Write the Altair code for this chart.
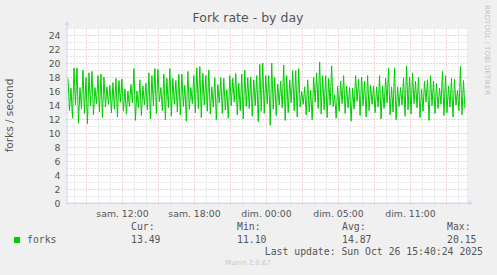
import altair as alt
import pandas as pd

peaks = [17.8,16.4,19.3,19.3,16.5,19.0,17.9,18.6,18.8,16.5,
         18.2,18.4,18.0,16.6,16.8,17.2,17.8,17.5,17.7,16.3,
         16.0,16.9,19.2,16.0,17.6,16.7,17.1,18.6,18.2,19.2,
         19.1,16.5,18.4,17.8,19.2,17.8,17.5,18.4,18.4,16.8,
         18.8,16.5,18.2,19.3,19.5,18.5,18.2,19.0,16.6,17.9,
         16.9,17.9,17.8,16.2,18.2,17.8,18.5,17.1,18.4,19.0,17.9,
         18.0,17.6,18.2,19.8,20.0,18.2,18.2,20.0,17.9,17.0,
         17.4,19.7,18.2,17.6,18.9,18.9,19.2,15.9,16.6,17.6,
         16.1,18.0,18.6,20.15,18.2,18.2,17.8,19.6,15.5,16.7,
         17.4,18.2,16.7,16.5,16.4,18.2,17.7,18.0,17.4,18.2,
         16.8,16.7,16.6,18.2,16.7,17.8,19.3,16.6,19.3,16.6,
         16.5,17.9,19.6,18.0,18.6,17.4,18.0,16.3,17.4,17.6,
         18.2,17.4,17.1,16.4,18.8,18.2,16.7,17.8,17.7,16.1,19.5,17.5]

troughs = [13.2,12.1,14.0,11.4,13.5,12.8,11.3,13.9,12.6,14.2,
           13.0,12.2,13.7,14.1,12.9,13.4,12.3,14.4,13.1,12.7,
           13.8,14.3,11.8,13.6,12.5,14.0,13.3,12.0,13.9,12.8,
           14.5,13.2,11.9,13.6,12.4,14.1,13.0,12.6,13.8,11.7,
           13.4,14.2,12.9,13.5,12.2,14.0,13.1,12.7,13.7,11.9,
           14.3,12.8,13.3,12.1,13.9,14.4,12.6,13.2,12.0,13.8,13.5,
           12.4,13.9,11.6,13.1,12.8,14.2,11.1,13.4,12.5,14.0,
           13.6,11.8,12.9,14.3,13.2,12.3,13.7,14.1,12.6,13.0,
           11.9,14.4,13.5,12.7,13.3,12.2,14.0,13.8,12.1,13.1,
           14.2,12.8,13.6,11.7,13.4,14.5,12.5,13.9,12.3,13.2,
           14.1,12.9,13.7,12.0,13.5,14.3,12.6,13.0,11.9,13.8,
           14.0,12.4,13.3,12.7,14.2,13.6,12.2,13.1,14.4,11.8,
           13.9,12.8,13.5,14.1,12.5,12.9,13.7,12.3,14.0,13.2,12.6,13.49]

tick_hours = [12, 18, 24, 30, 36]
tick_labels = ["sam. 12:00", "sam. 18:00", "dim. 00:00", "dim. 05:00", "dim. 11:00"]
legend_heads = ["Cur:", "Min:", "Avg:", "Max:"]
legend_vals = ["13.49", "11.10", "14.87", "20.15"]
series_name = "forks"
title_text = "Fork rate - by day"
y_title = "forks / second"
last_update = "Last update: Sun Oct 26 15:40:24 2025"
side_text = "RRDTOOL / TOBI OETIKER"
footer = "Munin 2.0.67"

# time axis (hours since Saturday 00:00)
X_MIN, X_MAX = 7.4167, 40.75
T_START, T_END = 7.5, 40.58

vals = []
for p, t in zip(peaks, troughs):
    vals += [p, t]
n = len(vals)
df = pd.DataFrame({
    "h": [T_START + i * (T_END - T_START) / (n - 1) for i in range(n)],
    "v": vals,
})

GREEN = "#00CC00"
TXT = "#555555"
AXC = "#CFD6F8"
MAJ = "#E3A8A8"
MIN = "#CFCFCF"
W, H = 400, 175

xexpr = "''"
for h, lab in reversed(list(zip(tick_hours, tick_labels))):
    xexpr = f"datum.value == {h} ? '{lab}' : ({xexpr})"

x_scale = alt.Scale(domain=[X_MIN, X_MAX], nice=False, zero=False)
y_scale = alt.Scale(domain=[0, 25], nice=False, zero=True)

x_axis = alt.Axis(
    values=list(range(8, 41)), labelExpr=xexpr, title=None,
    grid=True, gridDash=[1, 2],
    gridColor={"condition": {"test": "datum.value % 3 === 0", "value": MAJ}, "value": MIN},
    ticks=True, tickSize=3, tickDash=[1, 2],
    tickColor={"condition": {"test": "datum.value % 3 === 0", "value": MAJ}, "value": MIN},
    domain=False, labelFont="DejaVu Sans", labelFontSize=9.3, labelColor=TXT,
    labelPadding=3, labelOverlap=False, labelFlush=False,
)
y_axis = alt.Axis(
    values=list(range(0, 26)), labelExpr="datum.value % 2 === 0 ? datum.label : ''", title=None,
    grid=True, gridDash=[1, 2],
    gridColor={"condition": {"test": "datum.value % 2 === 0", "value": MAJ}, "value": MIN},
    ticks=True, tickSize=3, tickDash=[1, 2],
    tickColor={"condition": {"test": "datum.value % 2 === 0", "value": MAJ}, "value": MIN},
    domain=False, labelFont="DejaVu Sans", labelFontSize=9.3, labelColor=TXT,
    labelPadding=4, labelOverlap=False, labelFlush=False,
)

line = alt.Chart(df).mark_line(color=GREEN, strokeWidth=1, interpolate="linear").encode(
    x=alt.X("h:Q", scale=x_scale, axis=x_axis),
    y=alt.Y("v:Q", scale=y_scale, axis=y_axis),
)

one = pd.DataFrame({"k": [0]})

def txt(text, x, y, size, color=TXT, font="DejaVu Sans", align="left", angle=0, baseline="middle"):
    return alt.Chart(pd.DataFrame({"t": [text]})).mark_text(
        font=font, fontSize=size, color=color, align=align, baseline=baseline, angle=angle
    ).encode(x=alt.value(x), y=alt.value(y), text="t:N")

layers = [line]

# axis lines and arrows
layers.append(alt.Chart(one).mark_rule(color=AXC, strokeWidth=1).encode(
    x=alt.value(0), y=alt.value(-4), y2=alt.value(H)))
layers.append(alt.Chart(one).mark_rule(color=AXC, strokeWidth=1).encode(
    x=alt.value(0), x2=alt.value(W + 3), y=alt.value(H)))
layers.append(alt.Chart(one).mark_point(shape="triangle-up", filled=True, color=AXC, size=22, opacity=1).encode(
    x=alt.value(0), y=alt.value(-5)))
layers.append(alt.Chart(one).mark_point(shape="triangle-right", filled=True, color=AXC, size=22, opacity=1).encode(
    x=alt.value(W + 4), y=alt.value(H)))

# titles
layers.append(txt(title_text, W / 2 - 19, -10, 12.5, align="center"))
layers.append(txt(y_title, -57, H / 2, 10.5, align="center", angle=270))
layers.append(txt(side_text, 420, -23, 7, color="#C4C4C4", align="left", angle=90))

# legend
layers.append(alt.Chart(one).mark_rect(color=GREEN).encode(
    x=alt.value(-53), x2=alt.value(-47), y=alt.value(209), y2=alt.value(215)))
MONO = "DejaVu Sans Mono"
layers.append(txt(series_name, -40, 212, 9.8, font=MONO))
col_x = [64, 170, 275, 380]
for hd, vv, cx in zip(legend_heads, legend_vals, col_x):
    layers.append(txt(hd, cx, 199, 9.8, font=MONO))
    layers.append(txt(vv, cx, 212, 9.8, font=MONO))
layers.append(txt(last_update, 416, 224, 9.8, font=MONO, align="right"))
layers.append(txt(footer, 181, 235, 7, color="#C8C8C8", align="center"))

chart = alt.layer(*layers).properties(
    width=W, height=H,
    autosize=alt.AutoSizeParams(type="none"),
    padding={"left": 67, "top": 28, "right": 30, "bottom": 72},
    background="#F0F0F0",
).configure_view(stroke=None, fill="#FFFFFF")

chart.save("out.html", embed_options={"renderer": "svg", "actions": False})
